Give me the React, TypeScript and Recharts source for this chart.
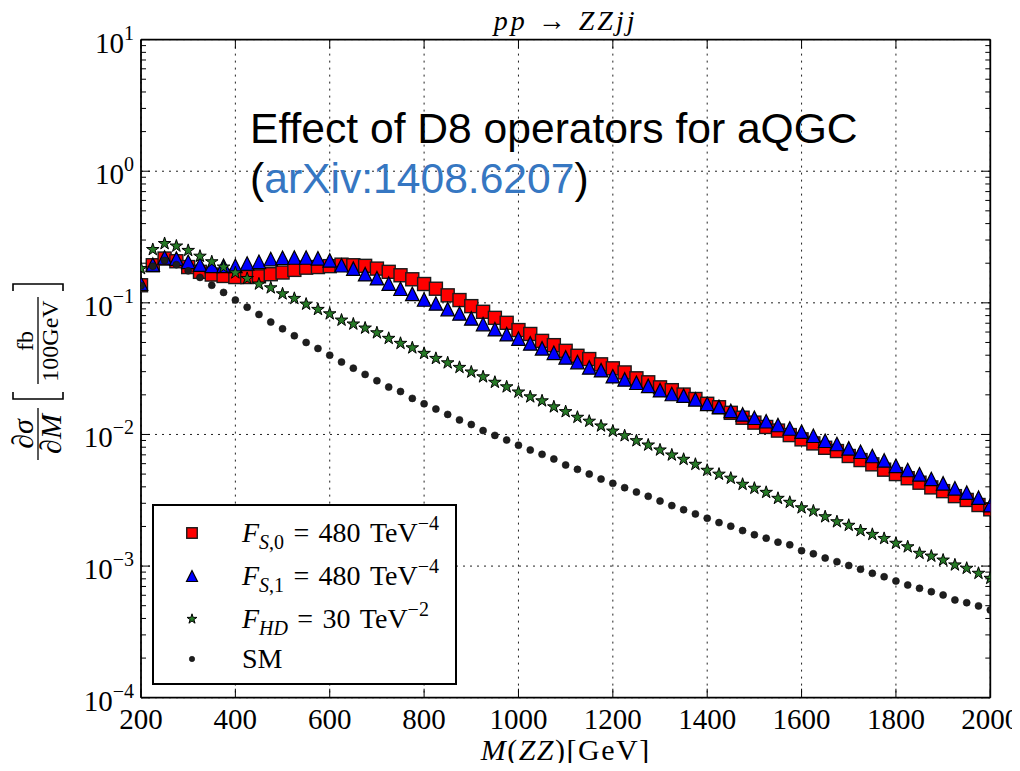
import { ScatterChart, Scatter, XAxis, YAxis, CartesianGrid } from "recharts"

// bin centres in M(ZZ), GeV
const massBins = [
  200, 225, 250, 275, 300, 325, 350, 375, 400, 425,
  450, 475, 500, 525, 550, 575, 600, 625, 650, 675,
  700, 725, 750, 775, 800, 825, 850, 875, 900, 925,
  950, 975, 1000, 1025, 1050, 1075, 1100, 1125, 1150, 1175,
  1200, 1225, 1250, 1275, 1300, 1325, 1350, 1375, 1400, 1425,
  1450, 1475, 1500, 1525, 1550, 1575, 1600, 1625, 1650, 1675,
  1700, 1725, 1750, 1775, 1800, 1825, 1850, 1875, 1900, 1925,
  1950, 1975, 2000,
]

// dsigma/dM in fb / 100 GeV
const fs0 = [
  0.136, 0.193, 0.217, 0.207, 0.187, 0.172, 0.164, 0.16, 0.157, 0.157,
  0.159, 0.165, 0.17, 0.178, 0.185, 0.187, 0.19, 0.195, 0.193, 0.191,
  0.182, 0.172, 0.162, 0.151, 0.139, 0.128, 0.114, 0.105, 0.0944, 0.0855,
  0.0769, 0.0705, 0.0621, 0.058, 0.0514, 0.0477, 0.0432, 0.0396, 0.0374, 0.0341,
  0.0318, 0.0296, 0.0267, 0.0249, 0.0228, 0.0217, 0.0201, 0.0186, 0.0171, 0.0161,
  0.0146, 0.0134, 0.0123, 0.0114, 0.0107, 0.00989, 0.00918, 0.00855, 0.00792, 0.00748,
  0.00686, 0.00639, 0.00593, 0.0054, 0.005, 0.00465, 0.0043, 0.00396, 0.00371, 0.0034,
  0.00318, 0.00291, 0.0027,
]

const fs1 = [
  0.14, 0.195, 0.221, 0.217, 0.205, 0.195, 0.191, 0.191, 0.191, 0.199,
  0.205, 0.215, 0.22, 0.221, 0.221, 0.218, 0.21, 0.193, 0.182, 0.165,
  0.154, 0.14, 0.128, 0.117, 0.106, 0.0989, 0.0896, 0.0831, 0.0762, 0.069,
  0.0631, 0.0578, 0.0535, 0.0492, 0.0451, 0.0417, 0.0385, 0.0355, 0.0323, 0.0308,
  0.0277, 0.0262, 0.0247, 0.0234, 0.0217, 0.0203, 0.0197, 0.0185, 0.0171, 0.0162,
  0.0151, 0.0142, 0.0134, 0.0126, 0.0118, 0.0111, 0.0105, 0.00978, 0.00896, 0.00846,
  0.00784, 0.00739, 0.00686, 0.00635, 0.00578, 0.00537, 0.00498, 0.00459, 0.00425, 0.0039,
  0.00361, 0.00331, 0.0029,
]

const fhd = [
  0.182, 0.254, 0.282, 0.27, 0.25, 0.226, 0.205, 0.187, 0.169, 0.153,
  0.139, 0.13, 0.117, 0.108, 0.0977, 0.0891, 0.0825, 0.0739, 0.069, 0.0643,
  0.0592, 0.0537, 0.0492, 0.0455, 0.0413, 0.0378, 0.035, 0.0323, 0.0298, 0.0274,
  0.0249, 0.023, 0.021, 0.0193, 0.018, 0.0162, 0.0149, 0.0135, 0.0126, 0.0116,
  0.0106, 0.00978, 0.00896, 0.00831, 0.00762, 0.00698, 0.00647, 0.00593, 0.00534, 0.00499,
  0.00465, 0.00418, 0.0039, 0.00363, 0.00327, 0.00305, 0.00277, 0.00262, 0.00237, 0.00217,
  0.00204, 0.00186, 0.00174, 0.00162, 0.00149, 0.0014, 0.00125, 0.00119, 0.00111, 0.00102,
  0.000962, 0.000881, 0.000807,
]

const sm = [
  0.135, 0.19, 0.21, 0.195, 0.175, 0.156, 0.136, 0.12, 0.105, 0.0927,
  0.0816, 0.0714, 0.0635, 0.0562, 0.05, 0.045, 0.04, 0.0355, 0.0319, 0.0286,
  0.0256, 0.0229, 0.0212, 0.0188, 0.0171, 0.0156, 0.0142, 0.0129, 0.0119, 0.0107,
  0.00984, 0.00907, 0.00829, 0.00762, 0.00706, 0.00651, 0.00586, 0.00543, 0.005, 0.00458,
  0.00425, 0.00394, 0.00365, 0.00339, 0.00312, 0.00288, 0.00268, 0.00249, 0.00231, 0.00214,
  0.00201, 0.00186, 0.00173, 0.00163, 0.00152, 0.00145, 0.00131, 0.00124, 0.00115, 0.00108,
  0.00101, 0.000946, 0.000881, 0.00083, 0.00077, 0.000718, 0.000678, 0.000639, 0.000603, 0.000553,
  0.000527, 0.000498, 0.000464,
]

const xTicks = [200, 400, 600, 800, 1000, 1200, 1400, 1600, 1800, 2000]
const yDecades = [1e-4, 1e-3, 1e-2, 1e-1, 1, 10]
const yMinor = yDecades.slice(0, -1).flatMap((d) => [2, 3, 4, 5, 6, 7, 8, 9].map((m) => +(d * m).toPrecision(3)))

const W = 1004
const H = 755
const CHART_W = 1012 // a little wider than the box so the "2000" label is not clipped
const SERIF = "'Liberation Serif', 'DejaVu Serif', serif"
const SANS = "'Liberation Sans', Arial, sans-serif"
const RED = "#ff0000"
const BLUE = "#0000ff"
const GREEN = "#267a26"
const NB = "\u00a0"
const GAP = "\u00a0\u200a"

const starPath = (cx: number, cy: number, R: number) => {
  const r = R * 0.382
  let d = ""
  for (let k = 0; k < 10; k++) {
    const a = (-90 + k * 36) * (Math.PI / 180)
    const rad = k % 2 === 0 ? R : r
    d += `${k === 0 ? "M" : "L"}${(cx + rad * Math.cos(a)).toFixed(2)},${(cy + rad * Math.sin(a)).toFixed(2)}`
  }
  return d + "Z"
}

const square = (cx: number, cy: number, s: number) => (
  <rect x={cx - s / 2} y={cy - s / 2} width={s} height={s} fill={RED} stroke="#1a1a1a" strokeWidth={1.4} />
)
const triangle = (cx: number, cy: number, s: number) => (
  <path d={`M${cx},${cy - s / 2}L${cx - s / 2},${cy + s / 2}L${cx + s / 2},${cy + s / 2}Z`} fill={BLUE} stroke="#000" strokeWidth={1.2} strokeLinejoin="miter" />
)
const star = (cx: number, cy: number, R: number) => (
  <path d={starPath(cx, cy, R)} fill={GREEN} stroke="#000" strokeWidth={1} />
)
const dot = (cx: number, cy: number, r: number) => <circle cx={cx} cy={cy} r={r} fill="#1e1e1e" stroke="#111" strokeWidth={0.6} />

const sub = (main: string, idx: React.ReactNode, rest: string, exp: string) => (
  <>
    <tspan fontStyle="italic">{main}</tspan>
    <tspan fontSize={20} dy={7}>{idx}</tspan>
    <tspan dy={-7}>{`${GAP}=${GAP}${rest}${GAP}TeV`}</tspan>
    <tspan fontSize={20} dy={-12}>{exp}</tspan>
  </>
)

const series = [
  {
    key: "fs0", values: fs0,
    shape: (p: any) => square(p.cx, p.cy, 13),
    legendMark: (x: number, y: number) => square(x, y, 10.5),
    label: sub("F", <><tspan fontStyle="italic">S</tspan>,0</>, "480", "−4"),
  },
  {
    key: "fs1", values: fs1,
    shape: (p: any) => triangle(p.cx, p.cy, 13.5),
    legendMark: (x: number, y: number) => triangle(x, y, 11),
    label: sub("F", <><tspan fontStyle="italic">S</tspan>,1</>, "480", "−4"),
  },
  {
    key: "fhd", values: fhd,
    shape: (p: any) => star(p.cx, p.cy, 6.6),
    legendMark: (x: number, y: number) => star(x, y, 5.2),
    label: sub("F", <tspan fontStyle="italic">HD</tspan>, "30", "−2"),
  },
  {
    key: "sm", values: sm,
    shape: (p: any) => dot(p.cx, p.cy, 3.5),
    legendMark: (x: number, y: number) => dot(x, y, 2.7),
    label: <tspan>SM</tspan>,
  },
]

const isDecade = (v: number) => Math.abs(Math.log10(v) - Math.round(Math.log10(v))) < 1e-6

const BottomTick = ({ x, y, payload }: any) => (
  <g>
    <line x1={x} x2={x} y1={y} y2={y - 9} stroke="#000" strokeWidth={1} />
    <text x={x} y={y + 31} textAnchor="middle" fontFamily={SERIF} fontSize={29} fill="#000">
      {payload.value}
    </text>
  </g>
)

const TopTick = ({ x, y }: any) => <line x1={x} x2={x} y1={y} y2={y + 9} stroke="#000" strokeWidth={1} />

const LeftTick = ({ x, y, payload }: any) => {
  const v = payload.value
  if (!isDecade(v)) return <line x1={x} x2={x + 5} y1={y} y2={y} stroke="#000" strokeWidth={1} />
  const e = Math.round(Math.log10(v))
  return (
    <g>
      <line x1={x} x2={x + 9} y1={y} y2={y} stroke="#000" strokeWidth={1} />
      <text x={x - 7} y={y + 13} textAnchor="end" fontFamily={SERIF} fontSize={29} fill="#000">
        10<tspan dy={-13} fontSize={20}>{e < 0 ? `−${-e}` : `${e}`}</tspan>
      </text>
    </g>
  )
}

const RightTick = ({ x, y, payload }: any) => {
  const len = isDecade(payload.value) ? 9 : 5
  return <line x1={x} x2={x - len} y1={y} y2={y} stroke="#000" strokeWidth={1} />
}

const frame = { stroke: "#000", strokeWidth: 1.8 }

export default function App() {
  // each axis takes 1px of the margin, the plot area is 849 x 658
  const margin = { top: 30.6, right: 28.7, bottom: 64.3, left: 132 }
  const midX = 133 + 849.3 / 2

  return (
    <div style={{ position: "relative", width: W, height: H, background: "#fff", overflow: "visible" }}>
      <ScatterChart width={CHART_W} height={H} margin={margin}>
        <CartesianGrid
          xAxisId="b"
          yAxisId="l"
          stroke="#222"
          strokeWidth={1}
          strokeDasharray="2 5"
          verticalValues={xTicks}
          horizontalValues={yDecades}
        />
        <XAxis xAxisId="b" dataKey="x" type="number" domain={[200, 2000]} ticks={xTicks} interval={0}
          height={1} tickSize={0} tickMargin={0} tickLine={false} axisLine={frame} allowDataOverflow
          tick={(p: any) => <BottomTick {...p} />} />
        <XAxis xAxisId="t" orientation="top" dataKey="x" type="number" domain={[200, 2000]} ticks={xTicks} interval={0}
          height={1} tickSize={0} tickMargin={0} tickLine={false} axisLine={frame} allowDataOverflow
          tick={(p: any) => <TopTick {...p} />} />
        <YAxis yAxisId="l" dataKey="y" type="number" scale="log" domain={[1e-4, 10]} ticks={[...yDecades, ...yMinor]} interval={0}
          width={1} tickSize={0} tickMargin={0} tickLine={false} axisLine={frame} allowDataOverflow
          tick={(p: any) => <LeftTick {...p} />} />
        <YAxis yAxisId="r" orientation="right" dataKey="y" type="number" scale="log" domain={[1e-4, 10]} ticks={[...yDecades, ...yMinor]} interval={0}
          width={1} tickSize={0} tickMargin={0} tickLine={false} axisLine={frame} allowDataOverflow
          tick={(p: any) => <RightTick {...p} />} />
        {series.map((s) => (
          <Scatter
            key={s.key}
            name={s.key}
            xAxisId="b"
            yAxisId="l"
            data={massBins.map((x, i) => ({ x, y: s.values[i] }))}
            shape={s.shape}
            isAnimationActive={false}
          />
        ))}
      </ScatterChart>

      <svg width={W} height={H} style={{ position: "absolute", left: 0, top: 0, overflow: "visible", pointerEvents: "none" }}>
        <text x={midX} y={22} textAnchor="middle" fontFamily={SERIF} fontSize={28} letterSpacing={3}>
          <tspan fontStyle="italic">pp</tspan>{`${NB}→${NB}`}<tspan fontStyle="italic">ZZjj</tspan>
        </text>

        <text x={242} y={135} fontFamily={SANS} fontSize={42.6} fill="#000">Effect of D8 operators for aQGC</text>
        <text x={242} y={185} fontFamily={SANS} fontSize={42.6} fill="#000">
          (<tspan fill="#3677c2">arXiv:1408.6207</tspan>)
        </text>

        <text x={midX} y={752} textAnchor="middle" fontFamily={SERIF} fontSize={30} letterSpacing={1.5}>
          <tspan fontStyle="italic">M</tspan>(<tspan fontStyle="italic">ZZ</tspan>)[GeV]
        </text>

        <g transform="translate(30,366) rotate(-90)" fontFamily={SERIF} fill="#000">
          <text x={-60} y={-5} textAnchor="middle" fontSize={30}>∂<tspan fontStyle="italic">σ</tspan></text>
          <line x1={-86} x2={-34} y1={0} y2={0} stroke="#000" strokeWidth={1.3} />
          <text x={-60} y={23} textAnchor="middle" fontSize={30}>∂<tspan fontStyle="italic">M</tspan></text>
          <path d="M-18,-25H-25V25H-18" fill="none" stroke="#000" strokeWidth={1.6} />
          <text x={33} y={-5} textAnchor="middle" fontSize={24}>fb</text>
          <line x1={-10} x2={77} y1={0} y2={0} stroke="#000" strokeWidth={1.3} />
          <text x={33} y={20} textAnchor="middle" fontSize={24}>100GeV</text>
          <path d="M83,-25H90V25H83" fill="none" stroke="#000" strokeWidth={1.6} />
        </g>

        <rect x={145} y={497} width={303} height={179} fill="#fff" stroke="#000" strokeWidth={2} />
        {series.map((s, i) => {
          const cy = [525, 568, 611, 651][i]
          return (
            <g key={s.key}>
              {s.legendMark(184, cy)}
              <text x={234} y={cy + 9} fontFamily={SERIF} fontSize={28} fill="#000">{s.label}</text>
            </g>
          )
        })}
      </svg>
    </div>
  )
}
